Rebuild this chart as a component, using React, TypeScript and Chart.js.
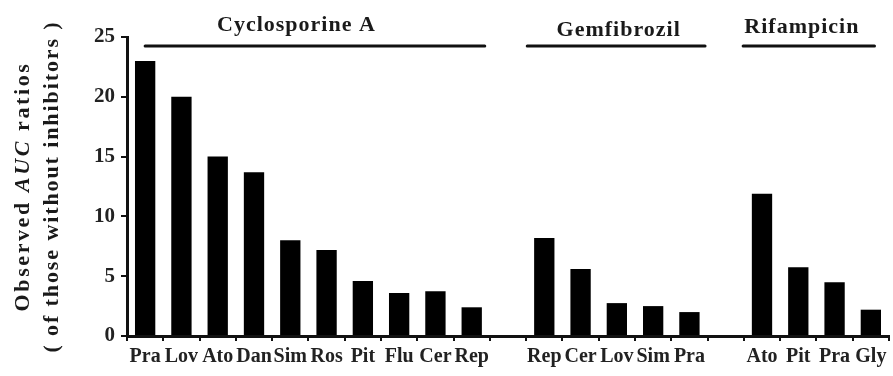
import { useEffect, useRef } from "react";
import { Chart, registerables } from "chart.js";

Chart.register(...registerables);

// ---- data ----
const categories = ["Pra", "Lov", "Ato", "Dan", "Sim", "Ros", "Pit", "Flu", "Cer", "Rep", "", "Rep", "Cer", "Lov", "Sim", "Pra", "", "Ato", "Pit", "Pra", "Gly"];
const aucRatios: (number | null)[] = [23.0, 20.0, 15.0, 13.7, 8.0, 7.2, 4.6, 3.6, 3.75, 2.4, null, 8.2, 5.6, 2.75, 2.5, 2.0, null, 11.9, 5.75, 4.5, 2.2];
const yTickValues = [0, 5, 10, 15, 20, 25];
const inhibitorNames = ["Cyclosporine A", "Gemfibrozil", "Rifampicin"];
const groupFirst = [0, 11, 17];
const groupLast = [9, 15, 20];
const yTitleLine1 = ["Observed ", "AUC", " ratios"];
const yTitleLine2 = "( of those without inhibitors )";

// ---- style ----
const FONT = "'Liberation Serif', 'Times New Roman', serif";
const INK = "#111";
const headerStyle = [
  { startOff: 0.0, endOff: 0.36, textIdx: 4, textOff: 0.17, baseline: 31 },
  { startOff: -0.47, endOff: 0.43, textIdx: 13, textOff: 0.05, baseline: 36 },
  { startOff: -0.52, endOff: 0.1, textIdx: 18, textOff: 0.1, baseline: 33 },
];

const headerPlugin = {
  id: "headers",
  afterDraw(chart: any) {
    const ctx = chart.ctx;
    const x = chart.scales.x;
    const w = x.getPixelForValue(1) - x.getPixelForValue(0);
    const lineY = chart.chartArea.top + 9;
    ctx.save();
    ctx.strokeStyle = INK;
    ctx.fillStyle = "#1a1a1a";
    ctx.lineWidth = 3;
    ctx.lineCap = "round";
    ctx.font = `bold 22px ${FONT}`;
    (ctx as any).letterSpacing = "1px";
    ctx.textAlign = "center";
    ctx.textBaseline = "alphabetic";
    inhibitorNames.forEach((name, i) => {
      const s = headerStyle[i];
      const x0 = x.getPixelForValue(groupFirst[i]) + s.startOff * w;
      const x1 = x.getPixelForValue(groupLast[i]) + s.endOff * w;
      ctx.beginPath();
      ctx.moveTo(x0, lineY);
      ctx.lineTo(x1, lineY);
      ctx.stroke();
      const tx = x.getPixelForValue(s.textIdx) + s.textOff * w;
      ctx.fillText(name, tx, s.baseline);
    });
    ctx.restore();
  },
};

const yTitlePlugin = {
  id: "ytitle",
  afterDraw(chart: any) {
    const ctx = chart.ctx;
    const cy = (chart.chartArea.top + chart.chartArea.bottom) / 2;
    const fonts = [`bold 22px ${FONT}`, `italic bold 22px ${FONT}`, `bold 22px ${FONT}`];
    ctx.save();
    ctx.fillStyle = "#1a1a1a";
    ctx.textBaseline = "alphabetic";
    ctx.textAlign = "left";
    (ctx as any).letterSpacing = "2.6px";
    // line 1
    let total = 0;
    const widths = yTitleLine1.map((t, i) => {
      ctx.font = fonts[i];
      const m = ctx.measureText(t).width;
      total += m;
      return m;
    });
    ctx.save();
    ctx.translate(29, cy);
    ctx.rotate(-Math.PI / 2);
    let pos = -total / 2;
    yTitleLine1.forEach((t, i) => {
      ctx.font = fonts[i];
      ctx.fillText(t, pos, 0);
      pos += widths[i];
    });
    ctx.restore();
    // line 2
    ctx.font = fonts[0];
    (ctx as any).letterSpacing = "1.9px";
    const w2 = ctx.measureText(yTitleLine2).width;
    ctx.save();
    ctx.translate(58, cy);
    ctx.rotate(-Math.PI / 2);
    ctx.fillText(yTitleLine2, -w2 / 2, 0);
    ctx.restore();
    ctx.restore();
  },
};

export default function App() {
  const ref = useRef<HTMLCanvasElement | null>(null);
  useEffect(() => {
    if (!ref.current) return;
    const chart = new Chart(ref.current, {
      type: "bar",
      data: {
        labels: categories,
        datasets: [
          {
            data: aucRatios as any,
            backgroundColor: "#000",
            borderWidth: 0,
            categoryPercentage: 1,
            barPercentage: 0.56,
          },
        ],
      },
      options: {
        responsive: false,
        animation: false,
        layout: { padding: { left: 0, top: 37, right: 4, bottom: 0 } },
        plugins: { legend: { display: false }, tooltip: { enabled: false } },
        scales: {
          x: {
            offset: true,
            grid: {
              display: true,
              offset: true,
              drawOnChartArea: false,
              drawTicks: true,
              tickLength: 5,
              color: INK,
              lineWidth: 2,
            },
            border: { display: true, color: INK, width: 3 },
            ticks: {
              autoSkip: false,
              maxRotation: 0,
              padding: 4,
              color: "#222",
              font: { family: FONT, size: 20, weight: "bold" },
            },
            afterFit: (s: any) => {
              s.height = 40;
            },
          },
          y: {
            min: 0,
            max: 25,
            afterBuildTicks: (s: any) => {
              s.ticks = yTickValues.map((v) => ({ value: v }));
            },
            grid: {
              display: true,
              drawOnChartArea: false,
              drawTicks: true,
              tickLength: 6,
              color: INK,
              lineWidth: 2,
            },
            border: { display: true, color: INK, width: 3 },
            ticks: {
              padding: 6,
              color: "#222",
              font: { family: FONT, size: 21, weight: "bold" },
            },
            afterFit: (s: any) => {
              s.width = 127;
            },
          },
        },
      },
      plugins: [headerPlugin, yTitlePlugin],
    });
    return () => chart.destroy();
  }, []);
  return (
    <div style={{ position: "absolute", left: 0, top: 0, width: 893, height: 376, background: "#fff" }}>
      <canvas ref={ref} width={893} height={376} style={{ display: "block" }} />
    </div>
  );
}
